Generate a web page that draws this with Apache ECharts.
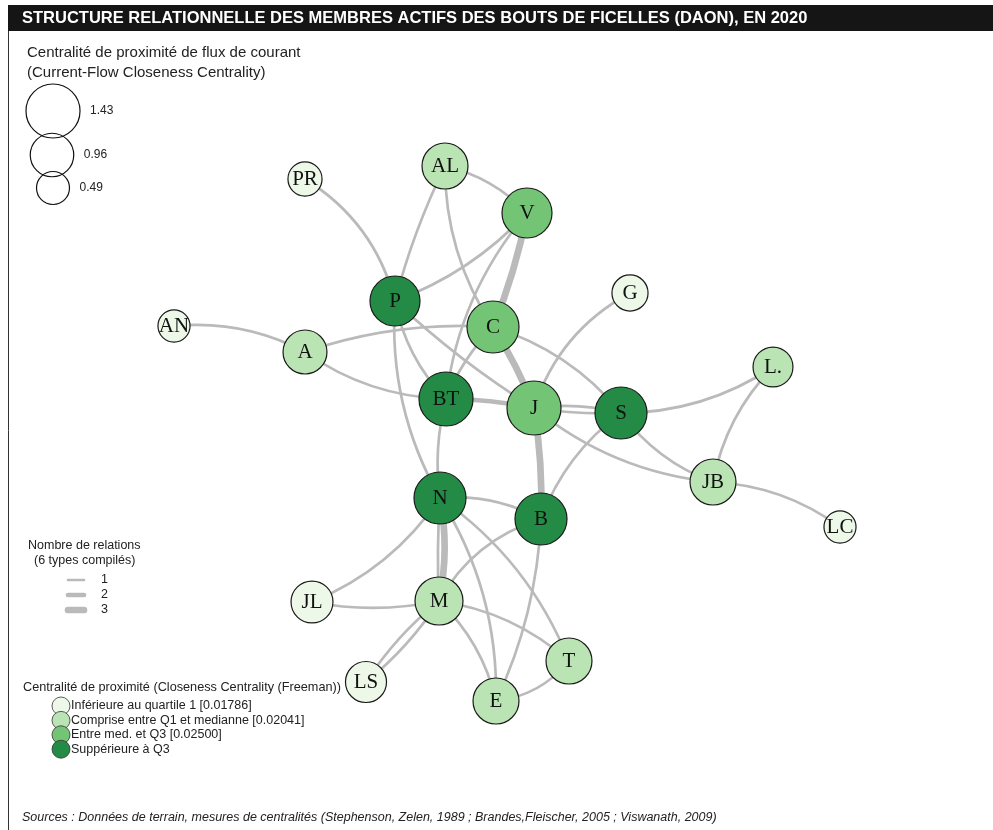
<!DOCTYPE html>
<html><head><meta charset="utf-8">
<script src="https://cdn.jsdelivr.net/npm/echarts@6/dist/echarts.min.js"></script>
<style>html,body{margin:0;padding:0;background:#fff}#c{width:993px;height:830px}</style>
</head><body><div id="c"></div>
<script>
// ---- data ----
const titleText = 'STRUCTURE RELATIONNELLE DES MEMBRES ACTIFS DES BOUTS DE FICELLES (DAON), EN 2020';
const nodeNames = ['PR','AL','V','P','G','AN','A','C','L.','BT','J','S','JB','LC','N','B','JL','M','LS','T','E'];
const nodeX = [305,445,527,395,630,174,305,493,773,446,534,621,713,840,440,541,312,439,366,569,496];
const nodeY = [179,166,213,301,293,326,352,327,367,399,408,413,482,527,498,519,602,601,682,661,701];
const flowCloseness = [0.54,1.07,1.25,1.25,0.63,0.45,0.98,1.34,0.80,1.43,1.43,1.34,1.07,0.45,1.34,1.34,0.89,1.16,0.85,1.07,1.07];
const closenessClass = [0,1,2,3,0,0,1,2,1,3,2,3,1,0,3,3,0,1,0,1,1];
const edgeSource = ['PR','AL','AL','AL','V','V','V','A','A','AN','P','P','P','C','C','C','BT','J','S','G','J','S','S','S','L.','JB','J','N','N','M','N','M','M','LS','M','M','T','N','N','B','B','BT'];
const edgeTarget = ['P','P','C','V','P','C','BT','C','BT','A','BT','J','N','BT','S','J','J','S','J','J','JB','L.','JB','B','JB','LC','B','B','M','N','JL','JL','LS','M','T','E','E','T','E','M','E','N'];
const edgeWeight = [1,1,1,1,1,3,1,1,1,1,1,1,1,1,1,3,2,1,1,1,1,1,1,1,1,1,3,1,3,1,1,1,1,1,1,1,1,1,1,1,1,1];
const sizeLegendValues = [1.43, 0.96, 0.49];
const relationLegendValues = [1, 2, 3];
const classLabels = ['Inférieure au quartile 1 [0.01786]','Comprise entre Q1 et medianne [0.02041]','Entre med. et Q3 [0.02500]','Suppérieure à Q3'];
const sourceText = 'Sources : Données de terrain, mesures de centralités (Stephenson, Zelen, 1989 ; Brandes,Fleischer, 2005 ; Viswanath, 2009)';

// ---- styles ----
const edgeCurve = [0.2,-0.05,-0.15,0.15,0.12,0.05,-0.15,0.1,-0.15,0.15,-0.15,-0.05,-0.15,-0.1,0.15,0.05,0.05,0.1,0.05,-0.2,-0.15,-0.15,-0.15,-0.15,-0.15,0.15,0.05,0.15,0.1,0.03,0.15,0.1,0.08,0.08,0.15,0.15,0.2,0.15,0.15,-0.2,0.1,-0.1];
const classColors = ['#edf8e9','#bae4b3','#74c476','#238b45'];
const edgeColor = '#bababa';
const radiusOf = v => 11 + 11.2 * v;
const widthOf = w => 0.7 + 2 * w;
const SANS = '"Liberation Sans", Arial';

const chart = echarts.init(document.getElementById('c'), null, {renderer:'canvas'});

const nodes = nodeNames.map((n, i) => ({
  name: n,
  value: [nodeX[i], nodeY[i]],
  symbolSize: radiusOf(flowCloseness[i]) * 2,
  itemStyle: {color: classColors[closenessClass[i]], borderColor: '#1a1a1a', borderWidth: 1.2}
}));
const links = edgeSource.map((s, i) => ({
  source: s, target: edgeTarget[i],
  lineStyle: {width: widthOf(edgeWeight[i]), curveness: edgeCurve[i], color: edgeColor, opacity: 1}
}));

const graphic = [];
graphic.push({type:'rect', shape:{x:8, y:5, width:985, height:26}, style:{fill:'#151515'}});
graphic.push({type:'text', x:22, y:18, style:{text:titleText, fill:'#fff', font:'bold 16.5px ' + SANS, verticalAlign:'middle'}});
graphic.push({type:'line', shape:{x1:8.5, y1:31, x2:8.5, y2:830}, style:{stroke:'#333', lineWidth:1}});
// size legend
graphic.push({type:'text', x:27, y:53, style:{text:'Centralité de proximité de flux de courant', fill:'#222', font:'15px ' + SANS, verticalAlign:'middle'}});
graphic.push({type:'text', x:27, y:73, style:{text:'(Current-Flow Closeness Centrality)', fill:'#222', font:'15px ' + SANS, verticalAlign:'middle'}});
const sizeLegendCx = [53, 52, 53];
const sizeLegendCy = [111, 155, 188];
sizeLegendValues.forEach((v, i) => {
  const r = radiusOf(v);
  graphic.push({type:'circle', shape:{cx:sizeLegendCx[i], cy:sizeLegendCy[i], r:r}, style:{fill:'rgba(255,255,255,0)', stroke:'#111', lineWidth:1.2}});
  graphic.push({type:'text', x:sizeLegendCx[i] + r + 10, y:sizeLegendCy[i], style:{text:v.toFixed(2), fill:'#222', font:'12px ' + SANS, verticalAlign:'middle'}});
});
// relation legend
graphic.push({type:'text', x:28, y:546, style:{text:'Nombre de relations', fill:'#222', font:'12.5px ' + SANS, verticalAlign:'middle'}});
graphic.push({type:'text', x:34, y:561, style:{text:'(6 types compilés)', fill:'#222', font:'12.5px ' + SANS, verticalAlign:'middle'}});
relationLegendValues.forEach((w, i) => {
  const y = 580 + i * 15;
  graphic.push({type:'line', shape:{x1:68, y1:y, x2:84, y2:y}, style:{stroke:edgeColor, lineWidth:widthOf(w), lineCap:'round'}});
  graphic.push({type:'text', x:101, y:y, style:{text:String(w), fill:'#222', font:'12.5px ' + SANS, verticalAlign:'middle'}});
});
// closeness legend
graphic.push({type:'text', x:23, y:687, style:{text:'Centralité de proximité (Closeness Centrality (Freeman))', fill:'#222', font:'12.7px ' + SANS, verticalAlign:'middle'}});
classLabels.forEach((t, i) => {
  const y = 706 + i * 14.4;
  graphic.push({type:'circle', shape:{cx:61, cy:y, r:9}, style:{fill:classColors[i], stroke:'#333', lineWidth:0.8}});
  graphic.push({type:'text', x:71, y:y, style:{text:t, fill:'#222', font:'12.5px ' + SANS, verticalAlign:'middle'}});
});
graphic.push({type:'text', x:22, y:818, style:{text:sourceText, fill:'#222', font:'italic 12.5px ' + SANS, verticalAlign:'middle'}});

chart.setOption({
  animation: false,
  backgroundColor: '#fff',
  grid: {left:0, top:0, width:993, height:830, containLabel:false},
  xAxis: {type:'value', min:0, max:993, show:false},
  yAxis: {type:'value', min:0, max:830, inverse:true, show:false},
  graphic: graphic,
  series: [{
    type: 'graph',
    coordinateSystem: 'cartesian2d',
    data: nodes,
    links: links,
    symbol: 'circle',
    label: {show:true, position:'inside', color:'#111', fontFamily:'"Liberation Serif", "DejaVu Serif", serif', fontSize:21, formatter: p => p.name},
    emphasis: {disabled:true},
    lineStyle: {color: edgeColor, opacity:1},
    z: 2
  }]
});
</script></body></html>
